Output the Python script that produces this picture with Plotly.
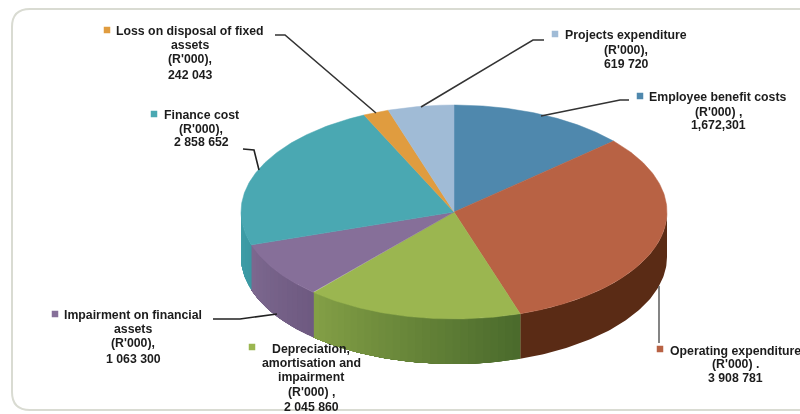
import numpy as np
import plotly.graph_objects as go

categories = ["Employee benefit costs", "Operating expenditure", "Depreciation, amortisation and impairment",
              "Impairment on financial assets", "Finance cost", "Loss on disposal of fixed assets", "Projects expenditure"]
values = [1672301, 3908781, 2045860, 1063300, 2858652, 242043, 619720]
top_colors = ["#4f88ad", "#b86244", "#9bb650", "#866f99", "#4aa8b2", "#e09c3f", "#a0bbd6"]
wall_from = ["#3c6a88", "#5a2b15", "#4a6a2c", "#6e5a80", "#3b97a1", "#b87c2c", "#7f98b0"]
wall_to = ["#3c6a88", "#5a2b15", "#84a046", "#7d6890", "#3fa0aa", "#b87c2c", "#7f98b0"]
label_lines = [
    ["Employee benefit costs", "(R'000) ,", "1,672,301"],
    ["Operating expenditure", "(R'000) .", "3 908 781"],
    ["Depreciation,", "amortisation and", "impairment", "(R'000) ,", "2 045 860"],
    ["Impairment on financial", "assets", "(R'000),", "1 063 300"],
    ["Finance cost", "(R'000),", "2 858 652"],
    ["Loss on disposal of fixed", "assets", "(R'000),", "242 043"],
    ["Projects expenditure", "(R'000),", "619 720"],
]
label_x = [718, 735, 311, 133, 201, 190, 626]
label_y = [[97, 112, 125], [351, 364, 378], [349, 363, 377, 392, 407], [315, 329, 343, 359],
           [115, 129, 142], [31, 45, 59, 75], [35, 50, 64]]
marker_x = [640, 660, 252, 55, 154, 107, 555]
marker_y = [96, 349, 347, 314, 114, 30, 34]
leaders = [
    ([629, 620, 541], [100, 100, 116], "#333333"),
    ([659, 659], [286, 343], "#666666"),
    ([213, 240, 277], [319, 319, 314], "#222222"),
    ([243, 254, 259], [149, 150, 170], "#222222"),
    ([275, 285, 376], [35, 35, 113], "#333333"),
    ([544, 533, 421], [40, 40, 107], "#333333"),
]

CX, CY, RX, RY, DEPTH = 454, 212, 213, 107, 45


def ex(t):
    return CX + RX * np.sin(t)


def ey(t):
    return CY - RY * np.cos(t)


def mix(a, b, f):
    pa = [int(a[i:i + 2], 16) for i in (1, 3, 5)]
    pb = [int(b[i:i + 2], 16) for i in (1, 3, 5)]
    return "rgb(%d,%d,%d)" % tuple(round(p + (q - p) * f) for p, q in zip(pa, pb))


fig = go.Figure()
edges = np.concatenate([[0], np.cumsum(values)]) / sum(values) * 2 * np.pi


def poly(xs, ys, color, width=0.0):
    fig.add_trace(go.Scatter(x=xs, y=ys, mode="lines", fill="toself", fillcolor=color,
                             line=dict(color=color, width=width), hoverinfo="skip", showlegend=False))


def wall(t, color):
    xs = np.concatenate([ex(t), ex(t[::-1])])
    ys = np.concatenate([ey(t), ey(t[::-1]) + DEPTH])
    poly(xs.tolist(), ys.tolist(), color)


# Front wall: a flat base for each slice, then gradient bands that overlap
for i in range(len(values)):
    a, b = max(edges[i], np.pi / 2), min(edges[i + 1], 3 * np.pi / 2)
    if b <= a:
        continue
    wall(np.linspace(a, b, 80), mix(wall_from[i], wall_to[i], 0.5))
    if wall_from[i] == wall_to[i]:
        continue
    n = max(1, int((b - a) / np.radians(2)))
    steps = np.linspace(a, b, n + 1)
    for k in range(n):
        wall(np.linspace(steps[k], b, 40), mix(wall_from[i], wall_to[i], (k + 0.5) / n))

# Top faces
for i in range(len(values)):
    t = np.linspace(edges[i], edges[i + 1], 120)
    poly([CX] + ex(t).tolist() + [CX], [CY] + ey(t).tolist() + [CY], top_colors[i], 0.5)

# Leader lines
for lx, ly, lc in leaders:
    fig.add_trace(go.Scatter(x=lx, y=ly, mode="lines", line=dict(color=lc, width=1.6),
                             hoverinfo="skip", showlegend=False))

# Label swatches
fig.add_trace(go.Scatter(x=marker_x, y=marker_y, mode="markers",
                         marker=dict(symbol="square", size=6.5, color=top_colors),
                         hoverinfo="skip", showlegend=False))

annotations = []
for lines, x, ys in zip(label_lines, label_x, label_y):
    for line, y in zip(lines, ys):
        annotations.append(dict(x=x, y=y, text="<b>" + line + "</b>", showarrow=False,
                                xanchor="center", yanchor="middle",
                                font=dict(family="Liberation Sans", size=12.3, color="#1c1c1c")))

frame = "M 800 9 L 30 9 Q 12 9 12 27 L 12 392 Q 12 410 30 410 L 800 410"
fig.update_layout(
    width=800, height=414, margin=dict(l=0, r=0, t=0, b=0),
    paper_bgcolor="#ffffff", plot_bgcolor="#ffffff", showlegend=False,
    xaxis=dict(range=[0, 800], visible=False, fixedrange=True),
    yaxis=dict(range=[414, 0], visible=False, fixedrange=True),
    annotations=annotations,
    shapes=[dict(type="path", path=frame, line=dict(color="#d9dbd2", width=2), layer="below")],
)
fig.write_html("out.html", config={"displayModeBar": False},
               post_script="document.body.style.margin='0';document.body.style.filter='blur(0.5px)';")
